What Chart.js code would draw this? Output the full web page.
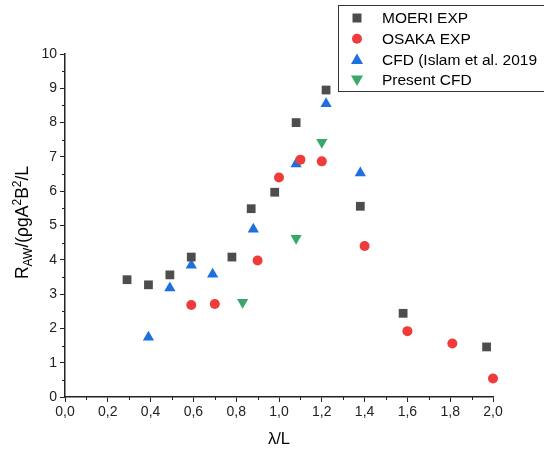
<!DOCTYPE html>
<html>
<head>
<meta charset="utf-8">
<script src="https://cdn.jsdelivr.net/npm/chart.js@4"></script>
<style>
  body { margin: 0; background: #fff; }
  #wrap { width: 544px; height: 453px; }
</style>
</head>
<body>
<div id="wrap"><canvas id="raoChart" width="544" height="453"></canvas></div>
<script>
// Data
const moeriX = [0.29, 0.39, 0.49, 0.59, 0.78, 0.87, 0.98, 1.08, 1.22, 1.38, 1.58, 1.97];
const moeriY = [3.42, 3.27, 3.56, 4.08, 4.08, 5.49, 5.97, 8.00, 8.95, 5.56, 2.44, 1.46];

const osakaX = [0.59, 0.70, 0.90, 1.00, 1.10, 1.20, 1.40, 1.60, 1.81, 2.00];
const osakaY = [2.68, 2.71, 3.98, 6.40, 6.92, 6.87, 4.40, 1.92, 1.56, 0.54];

const islamX = [0.39, 0.49, 0.59, 0.69, 0.88, 1.08, 1.22, 1.38];
const islamY = [1.74, 3.18, 3.84, 3.58, 4.89, 6.79, 8.55, 6.53];

const presentX = [0.83, 1.08, 1.20];
const presentY = [2.76, 4.63, 7.43];

const seriesLabels = ['MOERI EXP', 'OSAKA EXP', 'CFD (Islam et al. 2019', 'Present CFD'];

function toPoints(xs, ys) {
    return xs.map((x, i) => ({ x: x, y: ys[i] }));
}

const FONT = "'Liberation Sans', Arial, sans-serif";

// Draws minor ticks, the legend box and the y axis title
const extrasPlugin = {
    id: 'extras',
    afterDraw(chart) {
        const ctx = chart.ctx;
        const xs = chart.scales.x;
        const ys = chart.scales.y;
        const area = chart.chartArea;

        // minor ticks
        ctx.save();
        ctx.strokeStyle = '#222';
        ctx.lineWidth = 1;
        ctx.beginPath();
        for (let v = 0.1; v < 2; v += 0.2) {
            const px = Math.round(xs.getPixelForValue(v)) + 0.5;
            ctx.moveTo(px, area.bottom);
            ctx.lineTo(px, area.bottom + 3);
        }
        for (let v = 0.5; v < 10; v += 1) {
            const py = Math.round(ys.getPixelForValue(v)) + 0.5;
            ctx.moveTo(area.left, py);
            ctx.lineTo(area.left - 3, py);
        }
        ctx.stroke();
        ctx.restore();

        // legend box
        ctx.save();
        ctx.strokeStyle = '#333';
        ctx.lineWidth = 1;
        ctx.strokeRect(338.5, 5.5, 220, 86);
        ctx.font = '15.5px ' + FONT;
        ctx.textBaseline = 'middle';
        chart.data.datasets.forEach((ds, i) => {
            const cy = 18 + i * 20.7;
            ctx.fillStyle = ds.backgroundColor;
            drawMarker(ctx, ds.pointStyle, 357, cy, ds.pointRotation || 0);
            ctx.fillStyle = '#000';
            ctx.fillText(ds.label, 382, cy + 1);
        });
        ctx.restore();

        // y axis title with sub- and superscripts
        const parts = [
            ['R', 0], ['AW', 1], ['/(ρgA', 0], ['2', -1], ['B', 0], ['2', -1], ['/L', 0]
        ];
        ctx.save();
        ctx.translate(28, (area.top + area.bottom) / 2 - 3);
        ctx.rotate(-Math.PI / 2);
        ctx.fillStyle = '#000';
        ctx.textBaseline = 'alphabetic';
        let total = 0;
        parts.forEach(p => {
            ctx.font = (p[1] === 0 ? 17.5 : 12) + 'px ' + FONT;
            total += ctx.measureText(p[0]).width;
        });
        let pos = -total / 2;
        parts.forEach(p => {
            ctx.font = (p[1] === 0 ? 17.5 : 12) + 'px ' + FONT;
            const dy = p[1] === 1 ? 4 : (p[1] === -1 ? -7 : 0);
            ctx.fillText(p[0], pos, dy);
            pos += ctx.measureText(p[0]).width;
        });
        ctx.restore();
    }
};

function drawMarker(ctx, style, x, y, rot) {
    ctx.beginPath();
    if (style === 'rect') {
        ctx.rect(x - 4.5, y - 4.5, 9, 9);
    } else if (style === 'circle') {
        ctx.arc(x, y, 5, 0, Math.PI * 2);
    } else {
        const s = rot ? -1 : 1;
        ctx.moveTo(x, y - 6 * s);
        ctx.lineTo(x + 6, y + 4.5 * s);
        ctx.lineTo(x - 6, y + 4.5 * s);
        ctx.closePath();
    }
    ctx.fill();
}

const ctx = document.getElementById('raoChart').getContext('2d');
new Chart(ctx, {
    type: 'scatter',
    data: {
        datasets: [
            {
                label: seriesLabels[0],
                data: toPoints(moeriX, moeriY),
                pointStyle: 'rect',
                pointRadius: 6.2,
                backgroundColor: '#4d4d4d',
                borderWidth: 0
            },
            {
                label: seriesLabels[1],
                data: toPoints(osakaX, osakaY),
                pointStyle: 'circle',
                pointRadius: 5,
                backgroundColor: '#f03b3b',
                borderWidth: 0
            },
            {
                label: seriesLabels[2],
                data: toPoints(islamX, islamY),
                pointStyle: 'triangle',
                pointRadius: 6.5,
                backgroundColor: '#1e6fe0',
                borderWidth: 0
            },
            {
                label: seriesLabels[3],
                data: toPoints(presentX, presentY),
                pointStyle: 'triangle',
                pointRotation: 180,
                pointRadius: 6.5,
                backgroundColor: '#38a86a',
                borderWidth: 0
            }
        ]
    },
    options: {
        responsive: false,
        animation: false,
        clip: false,
        layout: { padding: { top: 54, right: 51, left: 0, bottom: 0 } },
        plugins: {
            legend: { display: false },
            tooltip: { enabled: false }
        },
        scales: {
            x: {
                type: 'linear',
                min: 0,
                max: 2,
                afterFit(scale) { scale.height = 56; },
                border: { color: '#222', width: 1.5 },
                grid: { drawOnChartArea: false, drawTicks: true, tickLength: 5, color: '#222' },
                ticks: {
                    stepSize: 0.2,
                    padding: 2,
                    color: '#222',
                    font: { family: FONT, size: 14 },
                    callback: v => v.toFixed(1).replace('.', ',')
                },
                title: {
                    display: true,
                    text: 'λ/L',
                    color: '#000',
                    font: { family: FONT, size: 16.5 },
                    padding: { top: 4 }
                }
            },
            y: {
                type: 'linear',
                min: 0,
                max: 10,
                afterFit(scale) { scale.width = 65; },
                border: { color: '#222', width: 1.5 },
                grid: { drawOnChartArea: false, drawTicks: true, tickLength: 5, color: '#222' },
                ticks: {
                    stepSize: 1,
                    padding: 3,
                    color: '#222',
                    font: { family: FONT, size: 14 }
                }
            }
        }
    },
    plugins: [extrasPlugin]
});
</script>
</body>
</html>
